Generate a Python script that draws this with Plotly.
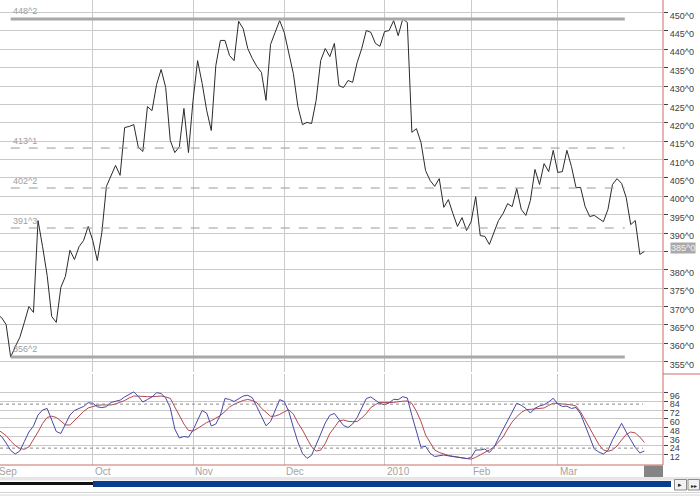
import pandas as pd
import plotly.graph_objects as go

# ---------------- data ----------------
holidays = ["2009-09-07", "2009-11-26", "2009-12-25", "2010-01-01", "2010-01-18", "2010-02-15"]
dates = [d for d in pd.bdate_range("2009-09-01", "2010-03-26") if d.strftime("%Y-%m-%d") not in holidays]

price = [
    367.8, 367.0, 365.1, 356.25, 359.1, 361.6, 365.7, 370.0, 368.4, 393.4,
    386.3, 378.5, 367.3, 365.7, 375.2, 378.2, 385.3, 382.8, 386.3, 388.0,
    391.8, 388.0, 382.5, 390.2, 402.7, 405.4, 408.4, 405.7, 418.7, 419.0,
    419.5, 413.3, 412.2, 424.4, 423.3, 430.4, 434.5, 429.6, 415.2, 411.9,
    413.5, 423.9, 411.9, 426.1, 436.9, 430.7, 423.3, 417.9, 435.6, 442.4,
    442.4, 438.3, 436.9, 447.6, 445.6, 440.2, 437.5, 435.3, 433.7, 426.1,
    441.3, 444.6, 447.8, 444.6, 438.6, 433.4, 424.4, 419.5, 420.1, 419.8,
    426.1, 436.9, 440.2, 438.0, 441.6, 430.1, 429.6, 431.5, 431.0, 436.4,
    440.2, 445.1, 444.6, 441.6, 440.8, 444.8, 445.1, 447.8, 443.7, 448.25,
    447.3, 417.4, 418.4, 414.6, 407.0, 404.3, 402.7, 404.8, 397.0, 399.1,
    395.3, 391.8, 394.2, 390.7, 393.1, 399.9, 389.3, 389.1, 386.9, 390.2,
    393.4, 395.3, 398.0, 397.2, 402.1, 396.4, 394.8, 398.9, 407.3, 403.2,
    408.9, 406.7, 412.5, 406.5, 406.7, 412.5, 408.1, 402.4, 402.4, 397.2,
    394.5, 394.8, 394.0, 393.1, 396.4, 403.2, 404.8, 403.5, 399.7, 392.3,
    393.4, 384.2, 385.0,
]

stoch_k = [
    40.7, 35.9, 27.0, 16.8, 12.0, 16.1, 29.1, 42.0, 50.2, 65.2,
    72.0, 74.1, 58.4, 42.7, 40.0, 52.3, 65.2, 71.4, 74.1, 76.8,
    82.0, 81.2, 76.4, 75.2, 76.5, 82.3, 83.9, 85.4, 89.8, 93.2,
    96.7, 90.5, 82.9, 86.4, 89.8, 95.6, 94.5, 88.4, 74.8, 46.1,
    33.8, 35.9, 34.8, 44.7, 59.1, 71.4, 67.5, 50.2, 52.9, 65.2,
    87.7, 86.4, 83.6, 87.7, 91.1, 92.1, 88.8, 76.4, 63.4, 50.5,
    56.3, 70.7, 86.1, 83.6, 70.0, 48.4, 28.4, 12.7, 6.1, 10.2,
    23.6, 39.3, 54.3, 64.8, 67.3, 58.7, 50.9, 48.2, 52.9, 61.8,
    74.8, 87.7, 89.8, 85.0, 80.9, 79.3, 81.6, 86.6, 86.1, 90.2,
    88.4, 64.5, 42.0, 21.1, 22.5, 13.0, 8.6, 9.3, 10.6, 9.5,
    8.6, 7.5, 6.8, 5.7, 7.2, 17.5, 17.5, 18.8, 14.1, 20.9,
    33.8, 46.1, 59.1, 69.3, 81.2, 78.4, 74.1, 67.9, 74.4, 77.5,
    79.3, 82.9, 88.0, 80.2, 76.8, 77.2, 74.1, 75.4, 66.6, 51.6,
    35.2, 18.8, 14.7, 12.0, 16.8, 31.1, 42.7, 53.9, 42.0, 31.1,
    20.9, 13.4, 16.1,
]

stoch_d = [
    46.1, 42.0, 37.2, 29.7, 23.6, 19.5, 18.4, 21.6, 31.1, 42.0,
    53.6, 61.8, 63.6, 61.8, 57.0, 51.6, 51.6, 57.7, 65.2, 70.0,
    74.8, 77.1, 78.4, 78.9, 78.9, 78.9, 80.2, 82.3, 85.0, 88.4,
    91.1, 90.9, 90.2, 90.2, 90.2, 90.5, 91.1, 89.8, 88.0, 76.1,
    63.8, 52.9, 44.1, 43.4, 46.8, 50.9, 55.0, 57.4, 60.4, 64.5,
    70.0, 76.1, 79.8, 82.4, 85.0, 86.4, 84.9, 81.9, 74.4, 68.9,
    63.4, 63.8, 65.9, 69.6, 72.3, 66.6, 54.3, 44.7, 32.5, 21.6,
    16.1, 17.2, 26.3, 40.0, 48.2, 57.0, 58.4, 56.6, 56.1, 56.3,
    61.1, 67.3, 75.4, 79.5, 82.3, 82.7, 82.3, 82.4, 83.4, 84.0,
    84.3, 80.9, 70.3, 56.3, 37.9, 27.0, 17.5, 14.1, 11.6, 10.0,
    8.9, 7.9, 6.8, 5.7, 4.9, 7.5, 10.6, 13.8, 17.5, 21.6,
    27.7, 35.2, 46.1, 55.7, 62.9, 68.6, 72.3, 72.7, 73.4, 73.8,
    74.8, 78.2, 81.2, 80.9, 80.2, 80.2, 78.9, 77.5, 69.3, 58.4,
    47.1, 36.6, 25.0, 17.5, 15.7, 17.5, 22.9, 31.1, 38.6, 42.0,
    40.7, 35.2, 27.7,
]

month_labels = ["Sep", "Oct", "Nov", "Dec", "2010", "Feb", "Mar"]
fib_levels = [448.25, 413.125, 402.25, 391.375, 356.25]
fib_labels = ["448^2", "413^1", "402^2", "391^3", "356^2"]
fib_thick = [True, False, False, False, True]
price_ticks = list(range(355, 451, 5))
price_tick_labels = [f"{v}^0" for v in price_ticks]
stoch_ticks = [12, 24, 36, 48, 60, 72, 84, 96]
stoch_levels = [20, 80]
last_price_label = "385^0"
last_price = 385.0

# ---------------- helpers ----------------
idx = list(range(len(dates)))
month_idx = []
seen = set()
for i, d in enumerate(dates):
    key = (d.year, d.month)
    if key not in seen:
        seen.add(key)
        month_idx.append(i)

# the highlighted last-price box replaces the axis label at that level
axis_text = ["" if v == last_price else t for v, t in zip(price_ticks, price_tick_labels)]

FONT = "Liberation Sans"
W, H = 700, 496
ML, MR, MT, MB = 0, 37, 0, 31
PW = W - ML - MR      # 663
PH = H - MT - MB      # 465
X_RANGE = [0.658, 146.08]
fib_x0, fib_x1 = 3, 137.7
dot_x1 = 141.7


def py(Y):  # pixel y -> paper y
    return (PH - Y) / PH


def px(X):  # pixel x -> paper x
    return X / PW


def ix(i):  # data index -> paper x
    return (i - X_RANGE[0]) / (X_RANGE[1] - X_RANGE[0])


hover_dates = [d.strftime("%Y-%m-%d") for d in dates]

fig = go.Figure()
fig.add_trace(go.Scatter(x=idx, y=price, xaxis="x2", yaxis="y2", mode="lines",
                         line=dict(color="#2b2b2b", width=1), customdata=hover_dates,
                         hovertemplate="%{customdata}: %{y}<extra></extra>", showlegend=False))
fig.add_trace(go.Scatter(x=idx, y=stoch_d, xaxis="x", yaxis="y", mode="lines",
                         line=dict(color="#b4484e", width=1), showlegend=False,
                         customdata=hover_dates, hovertemplate="%{customdata}: %{y}<extra></extra>"))
fig.add_trace(go.Scatter(x=idx, y=stoch_k, xaxis="x", yaxis="y", mode="lines",
                         line=dict(color="#4848a8", width=1), showlegend=False,
                         customdata=hover_dates, hovertemplate="%{customdata}: %{y}<extra></extra>"))

grid = "#cacaca"
tickfont = dict(family=FONT, size=9, color="#404040")

fig.update_layout(
    template="none",
    width=W, height=H,
    margin=dict(l=ML, r=MR, t=MT, b=MB, pad=0, autoexpand=False),
    paper_bgcolor="white", plot_bgcolor="white",
    font=dict(family=FONT, size=9, color="#404040"),
    xaxis=dict(domain=[0, 1], anchor="y", range=X_RANGE, tickvals=month_idx, automargin=False,
               showticklabels=False, ticks="", showgrid=True, gridcolor=grid, gridwidth=1,
               zeroline=False, showline=False),
    xaxis2=dict(domain=[0, 1], anchor="y2", matches="x", range=X_RANGE, tickvals=month_idx,
                automargin=False, showticklabels=False, ticks="", showgrid=True, gridcolor=grid,
                gridwidth=1, zeroline=False, showline=False),
    yaxis=dict(domain=[0, py(374)], anchor="x", side="right", range=[-3.0, 121.1], automargin=False,
               tickvals=stoch_ticks, ticktext=[str(v) for v in stoch_ticks],
               ticks="outside", ticklen=4, tickwidth=1, tickcolor="#404040", ticklabelshift=3,
               tickfont=tickfont, showgrid=True, gridcolor=grid, zeroline=False, showline=False),
    yaxis2=dict(domain=[py(372), 1], anchor="x2", side="right", range=[352.2, 453.4], automargin=False,
                tickvals=price_ticks, ticktext=axis_text,
                ticks="outside", ticklen=4, tickwidth=1, tickcolor="#404040", ticklabelshift=3,
                tickfont=tickfont, showgrid=True, gridcolor=grid, zeroline=False, showline=False),
    hovermode="closest",
)

shapes = []
annotations = []

# Fibonacci lines and labels
for lvl, lab, thick in zip(fib_levels, fib_labels, fib_thick):
    shapes.append(dict(type="line", xref="x2", yref="y2", x0=fib_x0, x1=fib_x1, y0=lvl, y1=lvl,
                       line=dict(color="#a8a8a8" if thick else "#9a9a9a",
                                 width=3 if thick else 1, dash="solid" if thick else "dash")))
    annotations.append(dict(xref="x2", yref="y2", x=fib_x0, y=lvl, text=lab, showarrow=False,
                            xanchor="left", yanchor="bottom", yshift=0 if not thick else 1,
                            font=dict(family=FONT, size=9, color="#a0a0a0")))

# stochastic overbought / oversold dotted lines
for lvl in stoch_levels:
    shapes.append(dict(type="line", xref="x", yref="y", x0=X_RANGE[0], x1=dot_x1, y0=lvl, y1=lvl,
                       line=dict(color="#8a8a8a", width=1, dash="dot")))

# red frame lines
red = "#d06a6a"
shapes.append(dict(type="line", xref="paper", yref="paper", x0=1, x1=1, y0=0, y1=1,
                   line=dict(color=red, width=1)))
shapes.append(dict(type="line", xref="paper", yref="paper", x0=0, x1=1, y0=0, y1=0,
                   line=dict(color=red, width=1)))
shapes.append(dict(type="line", xref="paper", yref="paper", x0=1, x1=px(700), y0=py(374), y1=py(374),
                   line=dict(color=red, width=1)))

# date highlight box under last bar
shapes.append(dict(type="rect", xref="paper", yref="paper", x0=px(644), x1=px(663), y0=py(477), y1=py(465.5),
                   fillcolor="#858585", line=dict(width=0)))

# scrollbar
shapes.append(dict(type="rect", xref="paper", yref="paper", x0=0, x1=px(700), y0=py(480.5), y1=py(477),
                   fillcolor="#e6e6e6", line=dict(width=0)))
shapes.append(dict(type="rect", xref="paper", yref="paper", x0=0, x1=px(93), y0=py(485), y1=py(482),
                   fillcolor="#111111", line=dict(width=0)))
shapes.append(dict(type="rect", xref="paper", yref="paper", x0=px(93), x1=px(671), y0=py(487), y1=py(481),
                   fillcolor="#0b3d8e", line=dict(width=0)))
for bx0, bx1 in [(674.5, 686.5), (688, 699.5)]:
    shapes.append(dict(type="rect", xref="paper", yref="paper", x0=px(bx0), x1=px(bx1), y0=py(490), y1=py(479.5),
                       fillcolor="#f2f2f2", line=dict(color="#8c8c8c", width=1)))
for yy in [492.5, 495]:
    shapes.append(dict(type="line", xref="paper", yref="paper", x0=0, x1=px(700), y0=py(yy), y1=py(yy),
                       line=dict(color="#d4d4d4", width=1)))
annotations.append(dict(xref="paper", yref="paper", x=px(680.5), y=py(485), text="▸", showarrow=False,
                        xanchor="center", yanchor="middle", font=dict(family="DejaVu Sans", size=7, color="#222")))
annotations.append(dict(xref="paper", yref="paper", x=px(693.8), y=py(485), text="▸▸", showarrow=False,
                        xanchor="center", yanchor="middle", font=dict(family="DejaVu Sans", size=6, color="#222")))

# month labels (left aligned at month start)
for mi, lab in zip(month_idx, month_labels):
    annotations.append(dict(xref="paper", yref="paper", x=ix(mi), y=py(471.5), text=lab, showarrow=False,
                            xanchor="left", yanchor="middle", xshift=0,
                            font=dict(family=FONT, size=10, color="#a4a4a4")))

# current price marker on the axis
annotations.append(dict(xref="paper", yref="y2", x=1, y=last_price, text=last_price_label, showarrow=False,
                        xanchor="left", yanchor="middle", xshift=7, yshift=3, bgcolor="#a9a9a9",
                        borderpad=0, font=dict(family=FONT, size=9, color="#f4f4f4")))

fig.update_layout(shapes=shapes, annotations=annotations)
fig.write_html("out.html", config={"displayModeBar": False},
               post_script="document.body.style.margin='0';document.body.style.padding='0';")
